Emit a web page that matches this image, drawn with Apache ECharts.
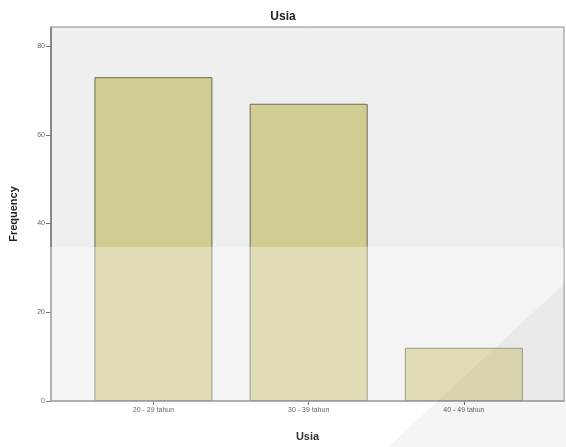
<!DOCTYPE html>
<html>
<head>
<meta charset="utf-8">
<script src="https://cdn.jsdelivr.net/npm/echarts@6/dist/echarts.min.js"></script>
<style>html,body{margin:0;padding:0;background:#fff;}#c{width:566px;height:447px;}</style>
</head>
<body>
<div id="c"></div>
<script>
const categories = ['20 - 29 tahun', '30 - 39 tahun', '40 - 49 tahun'];
const frequency = [73, 67, 12];
const yTicks = [0, 20, 40, 60, 80];

const chart = echarts.init(document.getElementById('c'), null, {renderer: 'canvas'});
const barData = categories.map((c, i) => [i, frequency[i]]);
chart.setOption({
  animation: false,
  backgroundColor: '#ffffff',
  title: {
    text: 'Usia', left: 'center', top: 6,
    textStyle: {fontFamily: 'Liberation Sans', fontSize: 12, fontWeight: 'bold', color: '#222'}
  },
  grid: {
    left: 49, right: 2, top: 27, bottom: 44,
    show: true, backgroundColor: '#efefef', borderColor: '#8a8a8a', borderWidth: 1
  },
  xAxis: {
    type: 'value', min: -0.66, max: 2.645,
    name: 'Usia', nameLocation: 'middle', nameGap: 30,
    nameTextStyle: {fontFamily: 'Liberation Sans', fontSize: 11, fontWeight: 'bold', color: '#333'},
    splitLine: {show: false},
    axisLine: {show: true, onZero: false, lineStyle: {color: '#777', width: 1.5}},
    axisTick: {show: true, length: 4, lineStyle: {color: '#777'}, customValues: [0, 1, 2]},
    axisLabel: {
      customValues: [0, 1, 2], margin: 6,
      fontFamily: 'Liberation Sans', fontSize: 7, color: '#666',
      formatter: v => categories[Math.round(v)] || ''
    }
  },
  yAxis: {
    type: 'value', min: 0, max: 84.3,
    name: 'Frequency', nameLocation: 'middle', nameGap: 32, nameRotate: 90,
    nameTextStyle: {fontFamily: 'Liberation Sans', fontSize: 11, fontWeight: 'bold', color: '#222'},
    splitLine: {show: false},
    axisLine: {show: true, onZero: false, lineStyle: {color: '#777', width: 1.5}},
    axisTick: {show: true, length: 5, lineStyle: {color: '#777'}, customValues: yTicks},
    axisLabel: {customValues: yTicks, margin: 6, fontFamily: 'Liberation Sans', fontSize: 7, color: '#666'}
  },
  series: [{
    type: 'bar',
    data: barData,
    barWidth: 118,
    itemStyle: {color: '#d1cc92', borderColor: '#6e6d58', borderWidth: 1}
  }],
  graphic: [
    {
      type: 'rect', silent: true, z: 100,
      shape: {x: 50, y: 247, width: 514, height: 155},
      style: {fill: 'rgba(255,255,255,0.33)'}
    },
    {
      type: 'polygon', silent: true, z: 101,
      shape: {points: [[566, 282], [566, 447], [388, 447]]},
      style: {fill: 'rgba(0,0,0,0.04)'}
    }
  ]
});
</script>
</body>
</html>
